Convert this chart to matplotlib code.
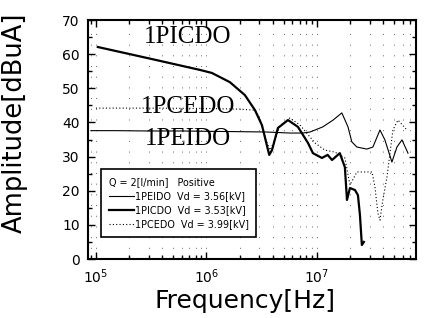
import numpy as np
import matplotlib
matplotlib.use("Agg")
import matplotlib.pyplot as plt
from matplotlib.ticker import LogLocator, MultipleLocator, NullFormatter

# Curves (frequency in Hz, amplitude in dBuA)
f_peido = [0.9e5, 1.5e5, 3.0e5, 6.0e5, 1.0e6, 2.0e6, 3.5e6, 5.7e6, 7.46e6, 8.65e6, 1.13e7,
           1.40e7, 1.68e7, 1.91e7, 2.07e7, 2.30e7, 2.83e7, 3.21e7, 3.72e7, 4.12e7,
           4.77e7, 5.30e7, 5.88e7, 6.67e7]
a_peido = [37.6, 37.6, 37.5, 37.5, 37.4, 37.3, 37.2, 36.9, 36.9, 37.2, 38.7,
           40.7, 42.8, 38.7, 34.3, 32.8, 32.2, 32.8, 37.8, 34.9,
           28.4, 32.8, 34.9, 31.0]

f_picdo = [1.04e5, 3.08e5, 8.7e5, 1.12e6, 1.63e6, 2.23e6, 2.75e6, 3.18e6, 3.45e6, 3.7e6,
           3.92e6, 4.44e6, 5.47e6, 6.73e6, 8.3e6, 9.2e6, 1.11e7, 1.25e7, 1.37e7, 1.61e7,
           1.79e7, 1.87e7, 1.99e7, 2.21e7, 2.35e7, 2.45e7, 2.55e7, 2.66e7]
a_picdo = [62.1, 58.7, 55.4, 54.5, 51.8, 48.0, 43.6, 39.2, 34.5, 30.5,
           31.9, 38.4, 40.7, 38.7, 34.0, 31.0, 29.6, 30.5, 29.0, 31.0,
           26.9, 17.3, 20.8, 20.2, 18.7, 12.9, 4.1, 5.0]

f_pcedo = [1.0e5, 3.0e5, 1.0e6, 2.0e6, 2.75e6, 3.05e6, 3.45e6, 3.76e6, 4.17e6, 4.62e6,
           5.7e6, 7.0e6, 9.6e6, 1.18e7, 1.46e7, 1.79e7, 1.99e7, 2.30e7, 2.83e7, 3.15e7,
           3.35e7, 3.56e7, 3.72e7, 3.95e7, 4.30e7, 4.87e7, 5.41e7, 6.52e7]
a_pcedo = [44.2, 44.2, 44.1, 43.9, 43.6, 41.3, 34.9, 31.9, 34.9, 39.0,
           41.3, 39.3, 34.0, 31.9, 31.3, 29.6, 21.7, 25.5, 25.5, 25.5,
           21.1, 13.5, 11.4, 17.3, 24.0, 37.8, 40.7, 37.8]

legend_title = "Q = 2[l/min]   Positive"
labels = ["1PEIDO  Vd = 3.56[kV]", "1PICDO  Vd = 3.53[kV]", "1PCEDO  Vd = 3.99[kV]"]

fig = plt.figure(figsize=(4.24, 3.18), dpi=100)
ax = fig.add_axes([0.2075, 0.1855, 0.7735, 0.7515])

ax.plot(f_peido, a_peido, color="k", lw=0.8, label=labels[0])
ax.plot(f_picdo, a_picdo, color="k", lw=1.6, label=labels[1])
ax.plot(f_pcedo, a_pcedo, color="k", lw=0.8, ls=(0, (1, 2)), label=labels[2])

ax.set_xscale("log")
ax.set_xlim(10 ** 4.928, 10 ** 7.896)
ax.set_ylim(0, 70)

ax.xaxis.set_major_locator(LogLocator(base=10))
ax.xaxis.set_minor_locator(LogLocator(base=10, subs=np.arange(2, 10)))
ax.xaxis.set_minor_formatter(NullFormatter())
ax.yaxis.set_major_locator(MultipleLocator(10))
ax.yaxis.set_minor_locator(MultipleLocator(5))

ax.grid(True, which="both", axis="x", color="0.4", lw=0.7, ls=(0, (1, 10)))

ax.tick_params(which="both", direction="in", top=True, right=True, width=1.0)
ax.tick_params(which="major", length=5, labelsize=10, pad=6)
ax.tick_params(which="minor", length=3)
for s in ax.spines.values():
    s.set_linewidth(1.5)

ax.set_xlabel("Frequency[Hz]", fontsize=18)
ax.set_ylabel("Amplitude[dBuA]", fontsize=18.5)
ax.xaxis.set_label_coords(0.48, -0.125)
ax.yaxis.set_label_coords(-0.185, 0.57)

serif = dict(family="Liberation Serif", fontsize=18, ha="center", va="center")
ax.text(6.8e5, 65.0, "1PICDO", **serif)
ax.text(6.8e5, 44.5, "1PCEDO", **serif)
ax.text(6.8e5, 35.1, "1PEIDO", **serif)

leg = ax.legend(loc="upper left", bbox_to_anchor=(0.025, 0.397), title=legend_title,
                alignment="left", fontsize=6.9, title_fontsize=6.9, frameon=True,
                fancybox=False, edgecolor="k", framealpha=1, handlelength=2.6,
                handletextpad=0.1, borderpad=0.8, labelspacing=0.45)
leg.get_frame().set_linewidth(1.2)

fig.savefig("out.png", dpi=100)
